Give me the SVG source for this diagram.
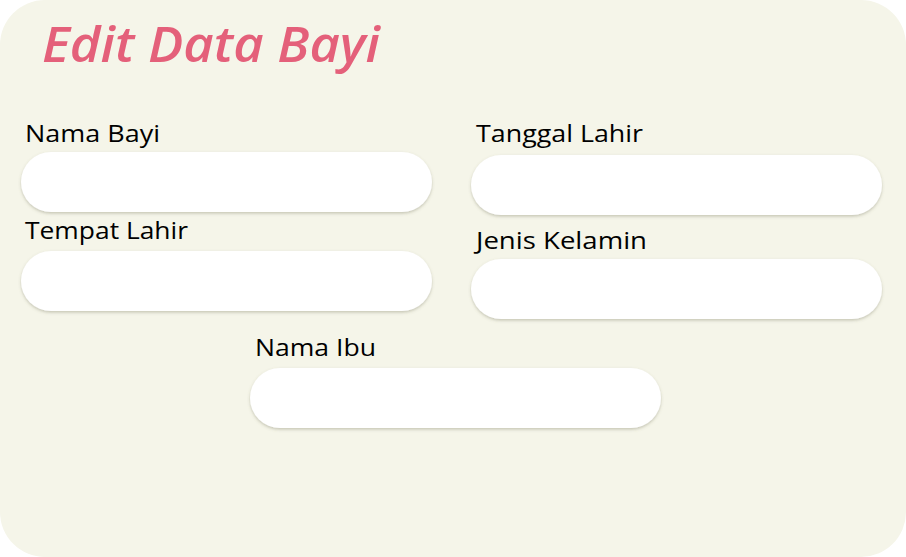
<svg xmlns="http://www.w3.org/2000/svg" width="906" height="557" viewBox="0 0 906 557">
  <style>
    .card { fill: #f5f5e9; }
    .title { font-family: "Open Sans", "Noto Sans", sans-serif; font-style: italic; font-weight: 600; font-size: 48px; fill: #e4607a; }
    .label { font-family: "Open Sans", "Noto Sans", sans-serif; font-size: 23px; fill: #000000; }
    .input { fill: #ffffff; filter: url(#shadow); }
  </style>
  <defs>
    <filter id="shadow" x="-10%" y="-30%" width="120%" height="160%">
      <feDropShadow dx="0" dy="1.5" stdDeviation="1.8" flood-color="#6b6b50" flood-opacity="0.35"/>
    </filter>
  </defs>
  <rect class="card" x="0" y="0" width="906" height="557" rx="45" ry="45"/>
  <text class="title" x="42" y="62" textLength="338" lengthAdjust="spacingAndGlyphs">Edit Data Bayi</text>
  <g id="field-nama-bayi">
    <text class="label" x="25" y="142" textLength="135" lengthAdjust="spacingAndGlyphs">Nama Bayi</text>
    <rect class="input" x="21" y="152" width="411" height="60" rx="30" ry="30"/>
  </g>
  <g id="field-tempat-lahir">
    <text class="label" x="25" y="239" textLength="163" lengthAdjust="spacingAndGlyphs">Tempat Lahir</text>
    <rect class="input" x="21" y="251" width="411" height="60" rx="30" ry="30"/>
  </g>
  <g id="field-tanggal-lahir">
    <text class="label" x="476" y="142" textLength="167" lengthAdjust="spacingAndGlyphs">Tanggal Lahir</text>
    <rect class="input" x="471" y="155" width="411" height="60" rx="30" ry="30"/>
  </g>
  <g id="field-jenis-kelamin">
    <text class="label" x="476" y="249" textLength="171" lengthAdjust="spacingAndGlyphs">Jenis Kelamin</text>
    <rect class="input" x="471" y="259" width="411" height="60" rx="30" ry="30"/>
  </g>
  <g id="field-nama-ibu">
    <text class="label" x="255" y="356" textLength="121" lengthAdjust="spacingAndGlyphs">Nama Ibu</text>
    <rect class="input" x="250" y="368" width="411" height="60" rx="30" ry="30"/>
  </g>
  <g id="connectors"/>
</svg>
